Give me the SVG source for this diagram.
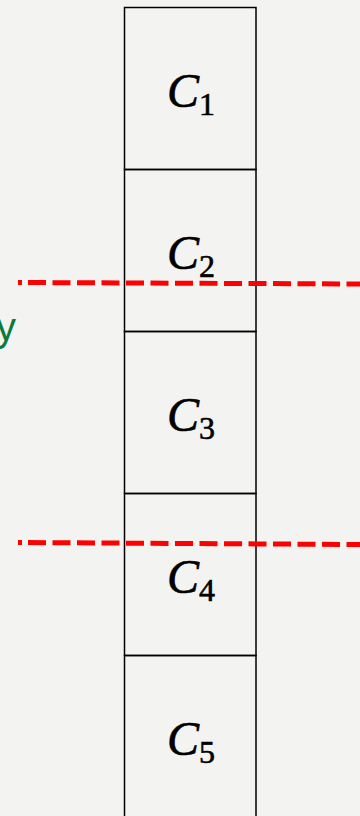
<svg xmlns="http://www.w3.org/2000/svg" width="360" height="816" viewBox="0 0 360 816">
<style>
.box{fill:none;stroke:#000;stroke-width:1.5}
.lbl{font-family:"Liberation Serif",serif;font-style:italic;font-size:48px;fill:#000;stroke:#000;stroke-width:0.6}
.sub{font-family:"Liberation Serif",serif;font-style:normal;font-size:32px}
.cut{stroke:#ff0000;stroke-width:5;stroke-dasharray:4 6 18 6.5 18 6.5 18 6.5 18 6.5 18 6.5 18 6.5 18 6.5 18 6.5 18 6.5 18 6.5 18 6.5 18 6.5 18 6.5 18 6.5 18 6.5 18 6.5 18 6.5 18 6.5 18 6.5 18 6.5 18 6.5 18 6.5 18 6.5;fill:none}
</style>
<rect width="360" height="816" fill="#f3f3f1"/>
<g id="c1"><rect class="box" x="124.5" y="7.5" width="131.5" height="162"/><text class="lbl" x="167" y="107">C<tspan class="sub" dy="8">1</tspan></text></g>
<g id="c2"><rect class="box" x="124.5" y="169.5" width="131.5" height="162"/><text class="lbl" x="167" y="269">C<tspan class="sub" dy="8">2</tspan></text></g>
<g id="c3"><rect class="box" x="124.5" y="331.5" width="131.5" height="162"/><text class="lbl" x="167" y="431">C<tspan class="sub" dy="8">3</tspan></text></g>
<g id="c4"><rect class="box" x="124.5" y="493.5" width="131.5" height="162"/><text class="lbl" x="167" y="593">C<tspan class="sub" dy="8">4</tspan></text></g>
<g id="c5"><rect class="box" x="124.5" y="655.5" width="131.5" height="170"/><text class="lbl" x="167" y="755">C<tspan class="sub" dy="8">5</tspan></text></g>
<g id="connectors">
<line class="cut" x1="18" y1="282.5" x2="360" y2="284"/>
<line class="cut" x1="18" y1="542.5" x2="360" y2="544.5"/>
</g>
<text x="-4" y="341" font-family="Liberation Sans, sans-serif" font-size="40" fill="#0b7a3b">y</text>
</svg>
